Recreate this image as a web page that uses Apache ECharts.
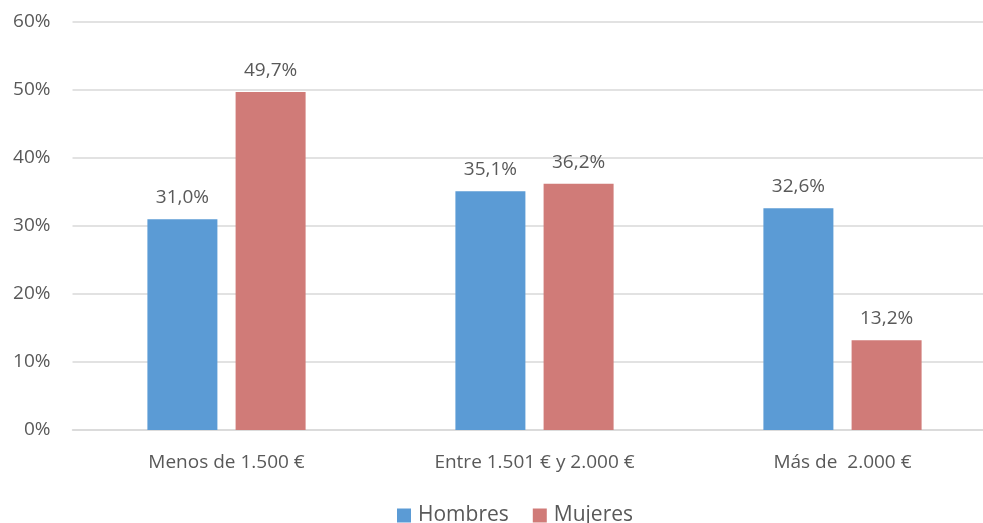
<!DOCTYPE html>
<html><head><meta charset="utf-8">
<script src="https://cdn.jsdelivr.net/npm/echarts@6/dist/echarts.min.js"></script>
<style>html,body{margin:0;padding:0;background:#fff}#c{width:983px;height:523px}</style>
</head><body><div id="c"></div>
<script>
const categories = ['Menos de 1.500 €', 'Entre 1.501 € y 2.000 €', 'Más de  2.000 €'];
const hombres = [31.0, 35.1, 32.6];
const mujeres = [49.7, 36.2, 13.2];
const seriesNames = ['Hombres', 'Mujeres'];
const yTicks = [0, 10, 20, 30, 40, 50, 60];

const font = 'Open Sans';
const txt = '#595959';
const fmt = p => p.value.toFixed(1).replace('.', ',') + '%';
const chart = echarts.init(document.getElementById('c'));
chart.setOption({
  animation: false,
  textStyle: { fontFamily: font },
  grid: { left: 72.5, width: 924, top: 22, bottom: 93, containLabel: false, outerBoundsMode: 'none' },
  legend: {
    top: 505, left: 397, itemWidth: 14, itemHeight: 14, itemGap: 24,
    icon: 'rect', padding: 0,
    textStyle: { fontFamily: font, fontSize: 21, color: txt, padding: [0, 0, 0, 2] },
    data: seriesNames
  },
  xAxis: {
    type: 'category', data: categories,
    axisLine: { lineStyle: { color: '#d9d9d9', width: 1.5 } },
    axisTick: { show: false },
    axisLabel: { fontFamily: font, fontSize: 19, color: txt, margin: 23 }
  },
  yAxis: {
    type: 'value', min: yTicks[0], max: yTicks[yTicks.length - 1], interval: 10,
    axisLine: { show: false }, axisTick: { show: false },
    splitLine: { lineStyle: { color: '#d9d9d9', width: 1.5 } },
    axisLabel: { fontFamily: font, fontSize: 19, color: txt, margin: 22, formatter: v => v + '%' }
  },
  series: [
    { name: seriesNames[0], type: 'bar', data: hombres, barWidth: 70, barGap: '26%',
      itemStyle: { color: '#5B9BD5' },
      label: { show: true, position: 'top', distance: 12, fontFamily: font, fontSize: 19, color: txt, formatter: fmt } },
    { name: seriesNames[1], type: 'bar', data: mujeres, barWidth: 70,
      itemStyle: { color: '#D07B78' },
      label: { show: true, position: 'top', distance: 12, fontFamily: font, fontSize: 19, color: txt, formatter: fmt } }
  ]
});
</script></body></html>
